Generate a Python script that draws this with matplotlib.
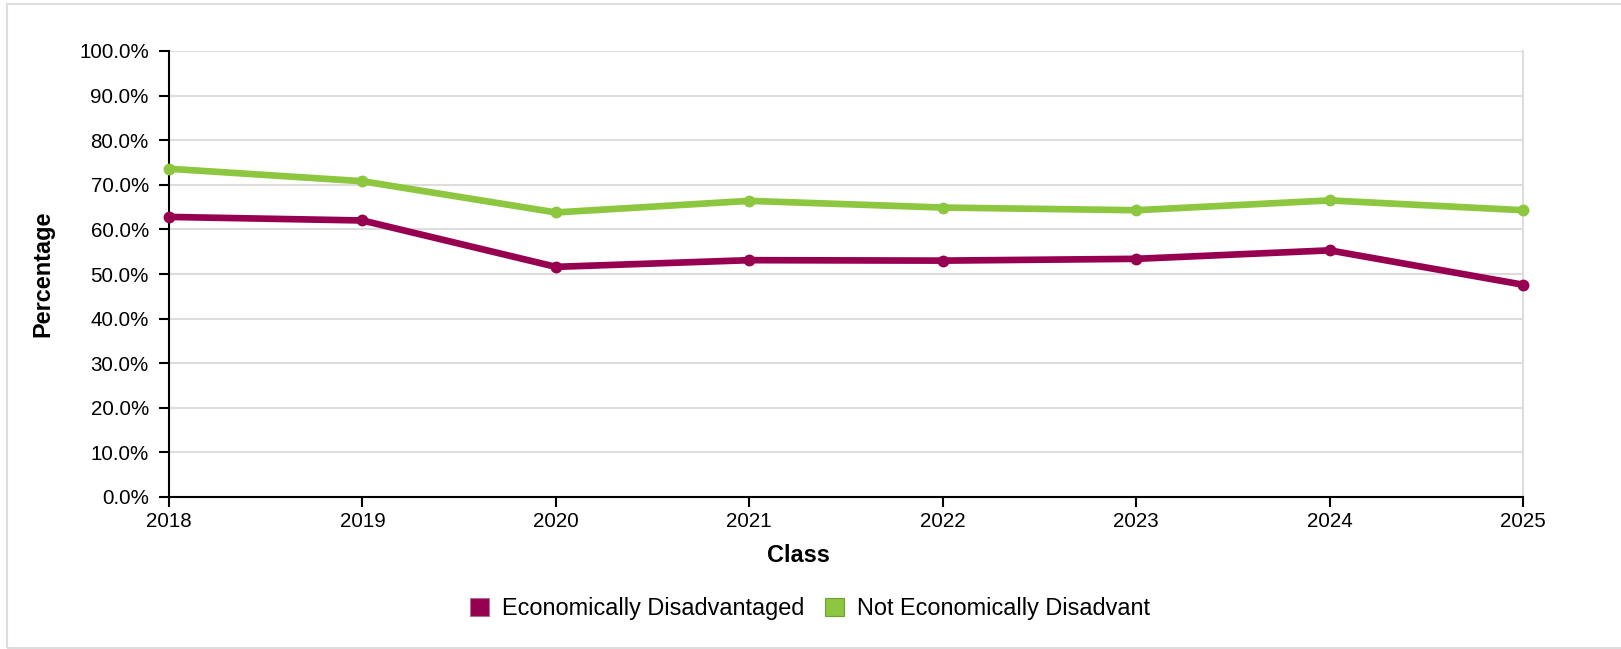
import matplotlib.pyplot as plt
from matplotlib.patches import Patch, Rectangle
from matplotlib.ticker import FuncFormatter

plt.rcParams['font.family'] = ['Liberation Sans', 'DejaVu Sans']

years = [2018, 2019, 2020, 2021, 2022, 2023, 2024, 2025]
econ_dis = [62.8, 62.0, 51.6, 53.1, 53.0, 53.4, 55.3, 47.6]
not_econ_dis = [73.6, 70.8, 63.8, 66.4, 64.9, 64.3, 66.5, 64.3]
series_names = ['Economically Disadvantaged', 'Not Economically Disadvant']
colors = ['#970050', '#8dc63f']

W, H = 1621, 649
fig = plt.figure(figsize=(W / 100, H / 100), dpi=100)

# plot area in pixels: left 169, right 1523, top 51, bottom 497
ax = fig.add_axes([169 / W, 1 - 497 / H, (1523 - 169) / W, (497 - 51) / H])

for vals, c in zip([econ_dis, not_econ_dis], colors):
    ax.plot(years, vals, color=c, lw=4.8, marker='o', ms=7.5,
            solid_joinstyle='round', clip_on=False, zorder=3)

ax.set_xlim(2018, 2025)
ax.set_ylim(0, 100)
ax.set_xticks(years)
ax.set_yticks(range(0, 101, 10))
ax.yaxis.set_major_formatter(FuncFormatter(lambda v, p: f'{v:.1f}%'))
ax.grid(axis='y', color='#dddddd', lw=1.5, zorder=0)

for s in ['left', 'bottom']:
    ax.spines[s].set_color('black')
    ax.spines[s].set_linewidth(1.5)
ax.spines['top'].set_visible(False)
ax.spines['right'].set_color('#dddddd')
ax.spines['right'].set_linewidth(1.5)

ax.tick_params(axis='both', labelsize=14.8, length=7.5, width=1.5, color='black')
ax.tick_params(axis='y', pad=7)
ax.tick_params(axis='x', pad=3)

fig.text(43 / W, 1 - 274 / H, 'Percentage', rotation=90, ha='center', va='center',
         fontsize=16.9, fontweight='bold')
fig.text(798 / W, 1 - 556 / H, 'Class', ha='center', va='center',
         fontsize=16.9, fontweight='bold')

handles = [Patch(facecolor=colors[0], edgecolor='#b07090', lw=0.8),
           Patch(facecolor=colors[1], edgecolor='#6ea030', lw=0.8)]
fig.legend(handles, series_names, loc='center', bbox_to_anchor=(810 / W, 1 - 609 / H),
           ncol=2, frameon=False, fontsize=16.9, handlelength=0.8, handleheight=0.8,
           handletextpad=0.55, columnspacing=0.9)

# outer light grey frame
fig.patches.append(Rectangle((7 / W, 1 - 648 / H), 2, (648 - 4) / H,
                             transform=fig.transFigure, fill=False,
                             edgecolor='#dddddd', lw=1.5))

fig.savefig('out.png', dpi=100)
